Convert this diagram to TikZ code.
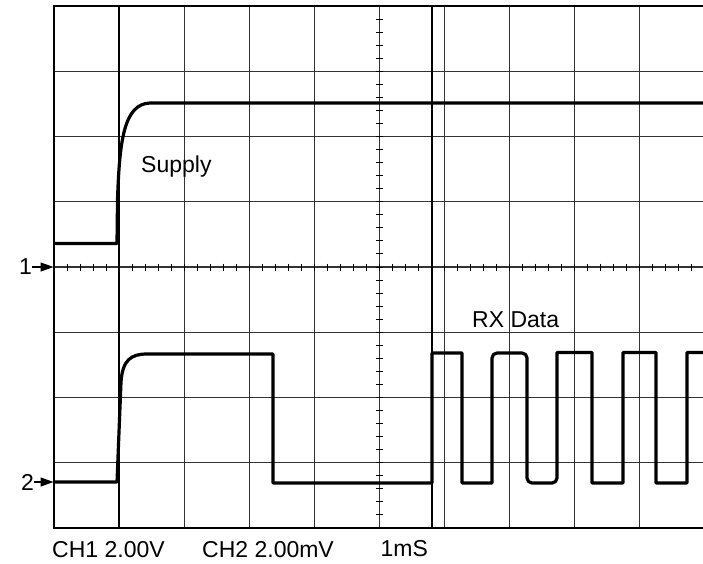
\documentclass[tikz,border=0pt]{standalone}
\usepackage{fontspec}
\setmainfont{Liberation Sans}
\usetikzlibrary{arrows.meta}
\begin{document}
\begin{tikzpicture}[x=1pt,y=-1pt,
  gridline/.style={line width=1.1pt, black!80},
  frame/.style={line width=2.4pt, black, line join=miter},
  cursor/.style={line width=2.4pt, black},
  trace/.style={line width=3.2pt, black, line join=round},
  tickmark/.style={line width=1pt, black},
  lbl/.style={font=\fontsize{23}{27}\selectfont, inner sep=0pt, anchor=base west},
  chmark/.style={font=\fontsize{23}{27}\selectfont, inner sep=0pt, anchor=east},
  chptr/.style={line width=1.3pt, -{Triangle[length=13pt,width=9pt]}}]
\useasboundingbox (0,0) rectangle (703,563);
\fill[white] (0,0) rectangle (703,563);
\begin{scope}
\clip (0,0) rectangle (703,563);
% grid
\foreach \i in {1,...,10} \draw[gridline] ({54+65.1*\i},6) -- ({54+65.1*\i},528);
\foreach \j in {1,...,7} \draw[gridline] (54,{6+65.25*\j}) -- (710,{6+65.25*\j});
% axis ticks
\foreach \k in {1,...,50} \draw[tickmark] ({54+13.02*\k},263.5) -- ({54+13.02*\k},270.5);
\foreach \k in {1,...,39} \draw[tickmark] (376,{6+13.05*\k}) -- (383,{6+13.05*\k});
% frame and cursors
\draw[frame] (710,6) -- (54,6) -- (54,528) -- (710,528);
\draw[cursor] (119.1,6) -- (119.1,528);
\draw[cursor] (432,6) -- (432,528);
% supply trace
\draw[trace] (54,243.5) -- (117,243.5) -- (117.5,200)
  .. controls (119.5,140) and (124,104) .. (150,103) -- (710,103);
% RX data trace
\draw[trace] (54,482) -- (117,482) -- (121,382)
  .. controls (122.5,360) and (131,354) .. (147,354) -- (273,354) -- (273,483)
  -- (432,483) -- (432,353) -- (462,353) -- (462,483) -- (492,483)
  [rounded corners=5pt] -- (492,353) -- (527,353) -- (527,483) -- (557,483)
  [sharp corners] -- (557,352.5) -- (592,352.5) -- (592,483) -- (623,483)
  -- (623,352.5) -- (656,352.5) -- (656,483) -- (687,483) -- (687,352.5) -- (710,352.5);
\end{scope}
% labels
\node[lbl] (supply) at (141,172) {Supply};
\node[lbl] (rx) at (472,327) {RX Data};
\node[lbl] (ch1) at (52,557) {CH1 2.00V};
\node[lbl] (ch2) at (202,557) {CH2 2.00mV};
\node[lbl] (tb) at (380.5,556) {1mS};
% channel markers
\node[chmark] (m1) at (32,267) {1};
\node[chmark] (m2) at (34,482) {2};
\coordinate (p1) at (53.5,267);
\coordinate (p2) at (53.5,482);
\draw[chptr] (m1) -- (p1);
\draw[chptr] (m2) -- (p2);
\end{tikzpicture}
\end{document}
